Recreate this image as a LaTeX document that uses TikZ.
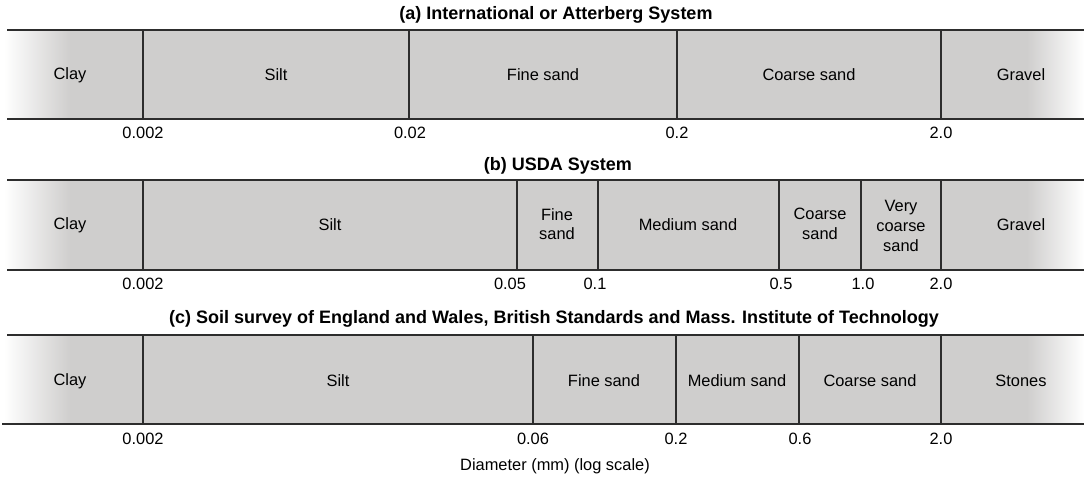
\documentclass[tikz,border=0pt]{standalone}
\usepackage{fontspec}
\setmainfont{Liberation Sans}
\definecolor{soilgray}{RGB}{207,206,205}
\definecolor{rulegray}{RGB}{45,45,45}

\begin{document}
\begin{tikzpicture}[x=0.5pt,y=-0.5pt,
    font=\fontsize{8.2}{9.8}\selectfont,
    rule/.style={draw=rulegray,line width=0.7pt},
    band/.style={align=center,inner sep=0pt},
    size/.style={inner sep=0pt},
    heading/.style={font=\fontsize{9}{10}\selectfont\bfseries,inner sep=0pt}]
  \useasboundingbox (0,0) rectangle (1084,482);

  % grey bands, fading out at both ends
  \foreach \t/\b in {30/119, 180/270, 335/424} {
    \fill[soilgray] (70,\t) rectangle (1027,\b);
    \shade[left color=white,right color=soilgray] (4,\t) rectangle (70,\b);
    \shade[left color=soilgray,right color=white] (1027,\t) rectangle (1084,\b);
  }

  % (a)
  \node[heading] (titleA) at (556,15) {(a) International or Atterberg System};
  \draw[rule] (7,30) -- (1084,30);
  \draw[rule] (7,119) -- (1084,119);
  \draw[rule] (143,30) -- (143,119);
  \draw[rule] (409,30) -- (409,119);
  \draw[rule] (677,30) -- (677,119);
  \draw[rule] (941,30) -- (941,119);
  \node[band] (clayA) at (70,75) {Clay};
  \node[band] (siltA) at (276,75) {Silt};
  \node[band] (fineA) at (543,75) {Fine sand};
  \node[band] (coarseA) at (809,75) {Coarse sand};
  \node[band] (gravelA) at (1021,75) {Gravel};
  \node[size] (dA1) at (143,133) {0.002};
  \node[size] (dA2) at (410,133) {0.02};
  \node[size] (dA3) at (677,133) {0.2};
  \node[size] (dA4) at (941,133) {2.0};

  % (b)
  \node[heading] (titleB) at (558,166) {(b) USDA System};
  \draw[rule] (7,180) -- (1084,180);
  \draw[rule] (7,270) -- (1084,270);
  \draw[rule] (143,180) -- (143,270);
  \draw[rule] (517,180) -- (517,270);
  \draw[rule] (598,180) -- (598,270);
  \draw[rule] (779,180) -- (779,270);
  \draw[rule] (861,180) -- (861,270);
  \draw[rule] (941,180) -- (941,270);
  \node[band] (clayB) at (70,225) {Clay};
  \node[band] (siltB) at (330,225) {Silt};
  \node[band] (fineB) at (557,224) {Fine\\sand};
  \node[band] (mediumB) at (688,225) {Medium sand};
  \node[band] (coarseB) at (820,224) {Coarse\\sand};
  \node[band] (vcoarseB) at (901,226) {Very\\coarse\\sand};
  \node[band] (gravelB) at (1021,225) {Gravel};
  \node[size] (dB1) at (143,284) {0.002};
  \node[size] (dB2) at (510,284) {0.05};
  \node[size] (dB3) at (595,284) {0.1};
  \node[size] (dB4) at (781,284) {0.5};
  \node[size] (dB5) at (863,284) {1.0};
  \node[size] (dB6) at (941,284) {2.0};

  % (c)
  \node[heading] (titleC) at (554,319) {(c) Soil survey of England and Wales, British Standards and Mass. Institute of Technology};
  \draw[rule] (7,335) -- (1084,335);
  \draw[rule] (2,424) -- (1084,424);
  \draw[rule] (143,335) -- (143,424);
  \draw[rule] (533,335) -- (533,424);
  \draw[rule] (676,335) -- (676,424);
  \draw[rule] (799,335) -- (799,424);
  \draw[rule] (941,335) -- (941,424);
  \node[band] (clayC) at (70,381) {Clay};
  \node[band] (siltC) at (338,381) {Silt};
  \node[band] (fineC) at (604,381) {Fine sand};
  \node[band] (mediumC) at (737,381) {Medium sand};
  \node[band] (coarseC) at (870,381) {Coarse sand};
  \node[band] (stonesC) at (1021,381) {Stones};
  \node[size] (dC1) at (143,439) {0.002};
  \node[size] (dC2) at (533,439) {0.06};
  \node[size] (dC3) at (676,439) {0.2};
  \node[size] (dC4) at (800,439) {0.6};
  \node[size] (dC5) at (941,439) {2.0};

  \node[size] (axis) at (555,466) {Diameter (mm) (log scale)};
\end{tikzpicture}
\end{document}
